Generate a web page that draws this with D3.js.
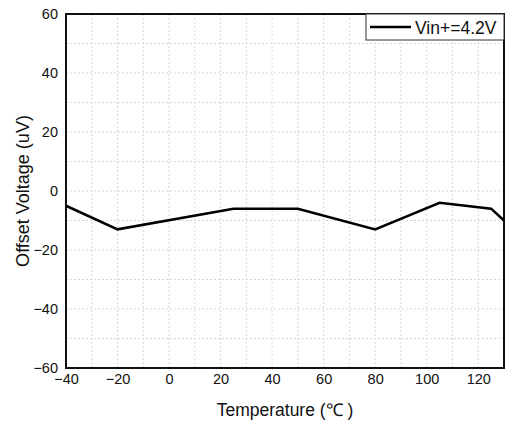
<!DOCTYPE html>
<meta charset="utf-8">
<style>
    body { margin: 0; background: #fff; font-family: "Liberation Sans", Arial, sans-serif; }
    .grid line { stroke: #d8d8d8; stroke-dasharray: 2,2; stroke-width: 1; }
    .axis text { font-size: 14.5px; fill: #111; font-family: "Liberation Sans", Arial, sans-serif; }
</style>
<body>
<script src="https://cdn.jsdelivr.net/npm/d3@7"></script>
<script>
var temps   = [-40, -20, 25, 50, 80, 105, 125, 130];
var offsets = [-5, -13, -6, -6, -13, -4, -6, -10];
var xTicks = [-40, -20, 0, 20, 40, 60, 80, 100, 120];
var yTicks = [-60, -40, -20, 0, 20, 40, 60];
var seriesName = "Vin+=4.2V";

var margin = {top: 14, right: 2, bottom: 58, left: 66},
    width = 506 - margin.left - margin.right,
    height = 426 - margin.top - margin.bottom;

var svg = d3.select("body").append("svg")
    .attr("width", 506)
    .attr("height", 426)
  .append("g")
    .attr("transform", "translate(" + margin.left + "," + margin.top + ")");

var x = d3.scaleLinear().domain([-40, 130]).range([0, width]);
var y = d3.scaleLinear().domain([-60, 60]).range([height, 0]);

// dashed grid every 10 units
svg.append("g").attr("class", "grid")
  .selectAll("line").data(d3.range(-30, 130, 10))
  .enter().append("line")
    .attr("x1", function(d) { return x(d); }).attr("x2", function(d) { return x(d); })
    .attr("y1", 0).attr("y2", height);
svg.append("g").attr("class", "grid")
  .selectAll("line").data(d3.range(-50, 60, 10))
  .enter().append("line")
    .attr("y1", function(d) { return y(d); }).attr("y2", function(d) { return y(d); })
    .attr("x1", 0).attr("x2", width);

svg.append("g").attr("class", "axis")
    .attr("transform", "translate(0," + height + ")")
    .call(d3.axisBottom(x).tickValues(xTicks).tickSize(0).tickPadding(6))
    .call(function(g) { g.select(".domain").remove(); });

svg.append("g").attr("class", "axis")
    .call(d3.axisLeft(y).tickValues(yTicks).tickSize(0).tickPadding(8))
    .call(function(g) { g.select(".domain").remove(); });

svg.append("rect")
    .attr("width", width).attr("height", height)
    .style("fill", "none").style("stroke", "#111").style("stroke-width", 2);

var line = d3.line()
    .x(function(d, i) { return x(temps[i]); })
    .y(function(d) { return y(d); });

svg.append("path")
    .datum(offsets)
    .attr("d", line)
    .style("fill", "none").style("stroke", "#000").style("stroke-width", 2.5);

// legend
var lg = svg.append("g").attr("transform", "translate(" + (width - 138) + ",0)");
lg.append("rect").attr("width", 138).attr("height", 26)
    .style("fill", "#fff").style("stroke", "#333").style("stroke-width", 1);
lg.append("line").attr("x1", 4).attr("x2", 45).attr("y1", 13).attr("y2", 13)
    .style("stroke", "#000").style("stroke-width", 2.5);
lg.append("text").attr("x", 49).attr("y", 19.5).text(seriesName)
    .style("font-size", "17.5px").style("fill", "#111");

svg.append("text")
    .attr("x", 285 - margin.left).attr("y", 416 - margin.top)
    .attr("text-anchor", "middle")
    .style("font-size", "17.5px").style("fill", "#111")
    .text("Temperature (℃ )");

svg.append("text")
    .attr("transform", "rotate(-90)")
    .attr("x", -(191 - margin.top)).attr("y", 29 - margin.left)
    .attr("text-anchor", "middle")
    .style("font-size", "18px").style("fill", "#111")
    .text("Offset Voltage (uV)");
</script>
</body>
